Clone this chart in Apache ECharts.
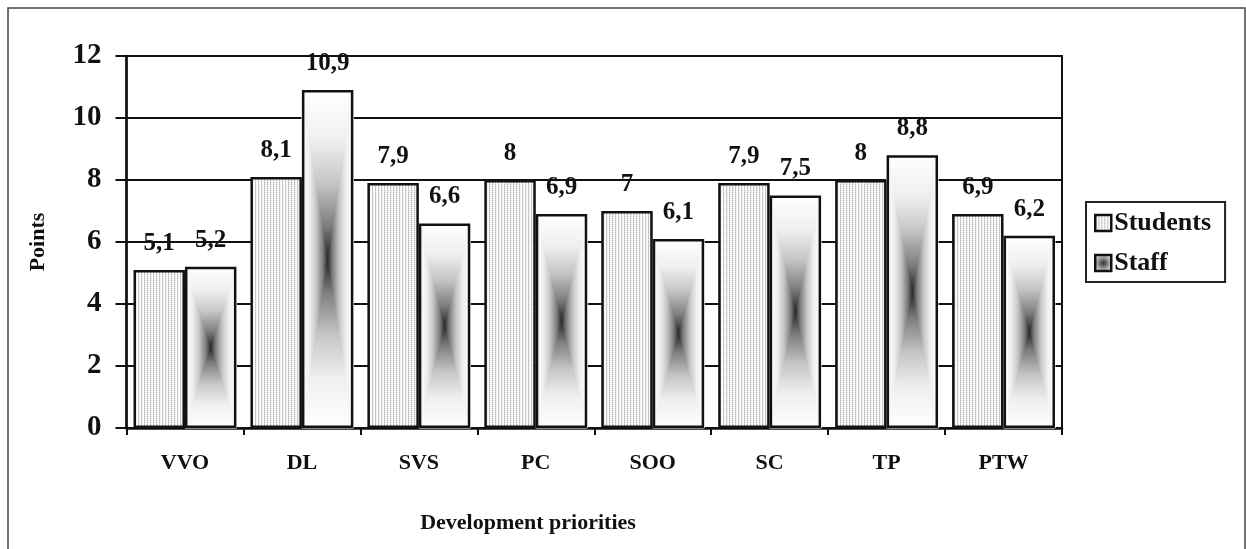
<!DOCTYPE html>
<html>
<head>
<meta charset="utf-8">
<script src="https://cdn.jsdelivr.net/npm/echarts@6/dist/echarts.min.js"></script>
<style>html,body{margin:0;padding:0;background:#fff;}#chart{width:1246px;height:549px;}</style>
</head>
<body>
<div id="chart"></div>
<script>
var categories = ['VVO', 'DL', 'SVS', 'PC', 'SOO', 'SC', 'TP', 'PTW'];
var studentsValues = [5.1, 8.1, 7.9, 8, 7, 7.9, 8, 6.9];
var staffValues = [5.2, 10.9, 6.6, 6.9, 6.1, 7.5, 8.8, 6.2];
var yTicks = [0, 2, 4, 6, 8, 10, 12];
var seriesNames = ['Students', 'Staff'];
var xAxisTitle = 'Development priorities';
var yAxisTitle = 'Points';

var FONT = '"Liberation Serif", "Times New Roman", serif';
var CAT_GAP = 0.12;

// dotted pattern for Students
var pc = document.createElement('canvas');
pc.width = 3; pc.height = 2;
var pctx = pc.getContext('2d');
pctx.fillStyle = '#ffffff'; pctx.fillRect(0, 0, 3, 2);
pctx.fillStyle = '#b4b4b4'; pctx.fillRect(0, 0, 1, 1);
pctx.fillStyle = '#d8d8d8'; pctx.fillRect(0, 1, 1, 1);
pctx.fillStyle = '#f2f2f2'; pctx.fillRect(1, 0, 1, 2);
var studentsFill = { image: pc, repeat: 'repeat' };

var stops = [
  { offset: 0, color: '#ffffff' },
  { offset: 0.3, color: '#efefef' },
  { offset: 0.55, color: '#c6c6c6' },
  { offset: 0.8, color: '#7e7e7e' },
  { offset: 1, color: '#222222' }
];
function lg(x, y, x2, y2) {
  return { type: 'linear', x: x, y: y, x2: x2, y2: y2, colorStops: stops };
}

function fmt(p) { return String(p.value).replace('.', ','); }

var chart = echarts.init(document.getElementById('chart'));
chart.setOption({
  animation: false,
  backgroundColor: '#ffffff',
  textStyle: { fontFamily: FONT },
  grid: { left: 126.5, right: 184, top: 56, bottom: 121, containLabel: false,
          show: true, borderColor: '#111', borderWidth: 2, backgroundColor: 'rgba(0,0,0,0)' },
  graphic: [{
    type: 'rect', silent: true, z: -10,
    shape: { x: 8, y: 8, width: 1237, height: 600 },
    style: { fill: 'none', stroke: '#444', lineWidth: 1.5 }
  }],
  title: {
    text: xAxisTitle,
    left: 523, top: 507, textAlign: 'center',
    textStyle: { fontFamily: FONT, fontWeight: 'bold', fontSize: 22, color: '#111' }
  },
  legend: {
    orient: 'vertical',
    left: 1086, top: 202,
    padding: [7, 14, 5, 8],
    itemGap: 12,
    itemWidth: 16, itemHeight: 16,
    borderColor: '#222', borderWidth: 2,
    icon: 'rect',
    textStyle: { fontFamily: FONT, fontWeight: 'bold', fontSize: 26, color: '#111', lineHeight: 28, padding: [0, 0, 0, -2] },
    data: [
      { name: seriesNames[0], itemStyle: { color: studentsFill, borderColor: '#111', borderWidth: 2.5 } },
      { name: seriesNames[1], itemStyle: { color: { type: 'radial', x: 0.5, y: 0.5, r: 0.5, colorStops: [{offset:0,color:'#333'},{offset:1,color:'#ddd'}] }, borderColor: '#111', borderWidth: 2.5 } }
    ]
  },
  xAxis: {
    type: 'category',
    data: categories,
    axisLine: { lineStyle: { color: '#111', width: 2.5 } },
    axisTick: { show: true, length: 7, lineStyle: { color: '#111', width: 2 } },
    axisLabel: { margin: 24, fontFamily: FONT, fontWeight: 'bold', fontSize: 22, color: '#111' },
    splitLine: { show: false }
  },
  yAxis: {
    type: 'value',
    min: 0, max: 12, interval: 2,
    name: yAxisTitle,
    nameLocation: 'middle',
    nameGap: 77,
    nameTextStyle: { fontFamily: FONT, fontWeight: 'bold', fontSize: 22, color: '#111' },
    axisLine: { show: true, lineStyle: { color: '#111', width: 2.5 } },
    axisTick: { show: true, length: 11, lineStyle: { color: '#111', width: 2 } },
    axisLabel: {
      margin: 25, fontFamily: FONT, fontWeight: 'bold', fontSize: 29, color: '#111',
      formatter: function (v) { return yTicks.indexOf(v) >= 0 ? String(v) : ''; }
    },
    splitLine: { show: true, lineStyle: { color: '#111', width: 2 } }
  },
  series: [
    {
      name: seriesNames[0],
      type: 'bar',
      data: studentsValues,
      barGap: '0%',
      barCategoryGap: (CAT_GAP * 100) + '%',
      itemStyle: { color: studentsFill, borderColor: '#111', borderWidth: 2.5 },
      label: { show: true, position: 'top', distance: 14, formatter: fmt, fontFamily: FONT, fontWeight: 'bold', fontSize: 25, color: '#111' },
      z: 3
    },
    {
      name: seriesNames[1],
      type: 'bar',
      data: staffValues,
      barGap: '0%',
      barCategoryGap: (CAT_GAP * 100) + '%',
      itemStyle: { color: 'rgba(0,0,0,0)', borderColor: '#111', borderWidth: 2.5 },
      label: { show: true, position: 'top', distance: 14, formatter: fmt, fontFamily: FONT, fontWeight: 'bold', fontSize: 25, color: '#111' },
      z: 4
    },
    {
      name: 'StaffFill',
      type: 'custom',
      data: staffValues.map(function (v, i) { return [i, v]; }),
      silent: true,
      z: 3,
      renderItem: function (params, api) {
        var i = api.value(0), v = api.value(1);
        var top = api.coord([i, v]);
        var base = api.coord([i, 0]);
        var catW = api.size([1, 0])[0];
        var w = catW * (1 - CAT_GAP) / 2;
        var x0 = top[0], x1 = top[0] + w;
        var y0 = top[1], y1 = base[1];
        var cx = (x0 + x1) / 2, cy = (y0 + y1) / 2;
        function tri(pts, g) {
          return { type: 'polygon', shape: { points: pts }, style: { fill: g, stroke: g, lineWidth: 1 } };
        }
        return {
          type: 'group',
          children: [
            tri([[x0, y0], [x1, y0], [cx, cy]], lg(0, 0, 0, 1)),
            tri([[x0, y1], [x1, y1], [cx, cy]], lg(0, 1, 0, 0)),
            tri([[x0, y0], [x0, y1], [cx, cy]], lg(0, 0, 1, 0)),
            tri([[x1, y0], [x1, y1], [cx, cy]], lg(1, 0, 0, 0))
          ]
        };
      }
    }
  ]
});
</script>
</body>
</html>
